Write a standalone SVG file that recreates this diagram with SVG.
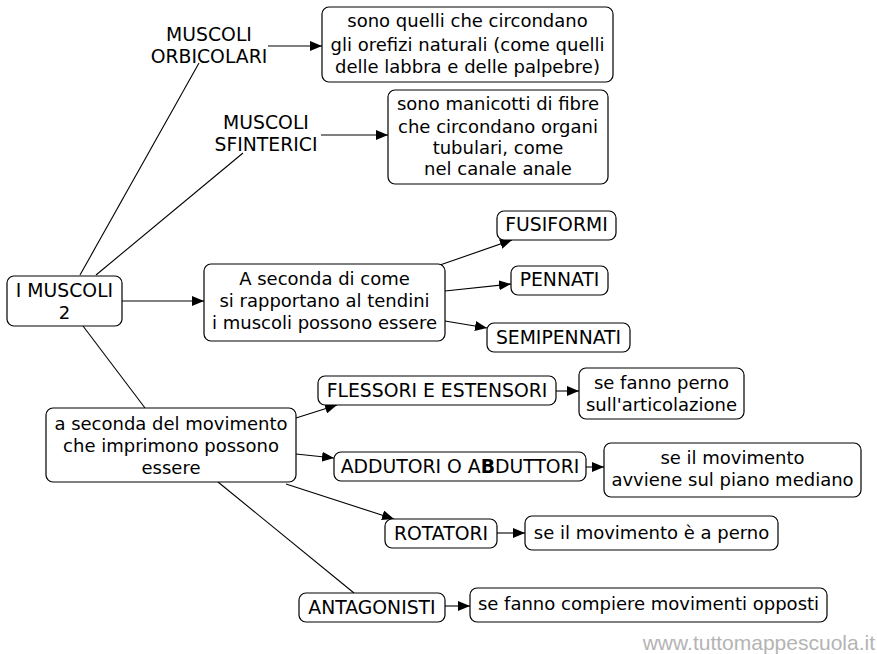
<svg xmlns="http://www.w3.org/2000/svg" width="877" height="654" viewBox="0 0 877 654">
<style>
.b{fill:#fff;stroke:#000;stroke-width:1.2}
text{font-family:"DejaVu Sans",Verdana,sans-serif;font-size:18px;fill:#000;text-anchor:middle}
.u{font-size:18.8px}
.c line{stroke:#000;stroke-width:1.1}
.wm{font-family:"Liberation Sans",Arial,sans-serif;font-size:21px;fill:#b4b4b4;text-anchor:end}
</style>
<defs>
<marker id="a" viewBox="0 0 12 10" refX="12" refY="5" markerWidth="12" markerHeight="10" markerUnits="userSpaceOnUse" orient="auto">
<path d="M0,0L12,5L0,10z" fill="#000"/>
</marker>
</defs>
<rect width="877" height="654" fill="#fff"/>
<g class="c">
<line x1="80" y1="275" x2="199" y2="63"/>
<line x1="96" y1="275" x2="243" y2="153"/>
<line x1="83" y1="326" x2="145" y2="408"/>
<line x1="218" y1="482" x2="354" y2="593"/>
<line x1="122" y1="301" x2="204" y2="301" marker-end="url(#a)"/>
<line x1="268" y1="46" x2="322" y2="46" marker-end="url(#a)"/>
<line x1="321" y1="135" x2="388" y2="135" marker-end="url(#a)"/>
<line x1="440" y1="265" x2="512" y2="240" marker-end="url(#a)"/>
<line x1="445" y1="291" x2="511" y2="284" marker-end="url(#a)"/>
<line x1="445" y1="321" x2="487" y2="328" marker-end="url(#a)"/>
<line x1="296" y1="418" x2="337" y2="405" marker-end="url(#a)"/>
<line x1="296" y1="454" x2="334" y2="458" marker-end="url(#a)"/>
<line x1="286" y1="484" x2="394" y2="519" marker-end="url(#a)"/>
<line x1="556" y1="391" x2="579" y2="391" marker-end="url(#a)"/>
<line x1="586" y1="467" x2="604" y2="467" marker-end="url(#a)"/>
<line x1="497" y1="533" x2="525" y2="533" marker-end="url(#a)"/>
<line x1="445" y1="606" x2="470" y2="606" marker-end="url(#a)"/>
</g>
<g id="n-root"><rect class="b" x="7" y="276" width="115" height="50" rx="7"/><text class="u" x="64.5" y="297">I MUSCOLI</text><text x="64.5" y="319">2</text></g>
<g id="n-orb"><text class="u" x="209" y="41">MUSCOLI</text><text class="u" x="209" y="63">ORBICOLARI</text></g>
<g id="n-orb-d"><rect class="b" x="322" y="7" width="291" height="75" rx="7"/><text x="467.5" y="27">sono quelli che circondano</text><text x="467.5" y="51">gli orefizi naturali (come quelli</text><text x="467.5" y="73">delle labbra e delle palpebre)</text></g>
<g id="n-sfi"><text class="u" x="266" y="129">MUSCOLI</text><text class="u" x="266" y="151">SFINTERICI</text></g>
<g id="n-sfi-d"><rect class="b" x="388" y="90" width="220" height="94" rx="7"/><text x="498" y="110">sono manicotti di fibre</text><text x="498" y="133">che circondano organi</text><text x="498" y="154">tubulari, come</text><text x="498" y="175">nel canale anale</text></g>
<g id="n-tend"><rect class="b" x="204" y="264" width="241" height="77" rx="7"/><text x="324.5" y="285">A seconda di come</text><text x="324.5" y="307">si rapportano al tendini</text><text x="324.5" y="329">i muscoli possono essere</text></g>
<g id="n-fus"><rect class="b" x="497" y="211" width="119" height="29" rx="7"/><text class="u" x="556.5" y="231">FUSIFORMI</text></g>
<g id="n-pen"><rect class="b" x="511" y="266" width="97" height="29" rx="7"/><text class="u" x="559.5" y="286">PENNATI</text></g>
<g id="n-semi"><rect class="b" x="487" y="323" width="143" height="29" rx="7"/><text class="u" x="558.5" y="344">SEMIPENNATI</text></g>
<g id="n-mov"><rect class="b" x="46" y="408" width="250" height="74" rx="7"/><text x="171" y="430">a seconda del movimento</text><text x="171" y="452">che imprimono possono</text><text x="171" y="474">essere</text></g>
<g id="n-fle"><rect class="b" x="318" y="376" width="238" height="29" rx="7"/><text class="u" x="437" y="397">FLESSORI E ESTENSORI</text></g>
<g id="n-fle-d"><rect class="b" x="579" y="368" width="165" height="51" rx="7"/><text x="661.5" y="389">se fanno perno</text><text x="661.5" y="411">sull'articolazione</text></g>
<g id="n-add"><rect class="b" x="334" y="452" width="252" height="29" rx="7"/><text class="u" x="460" y="473">ADDUTORI O A<tspan font-weight="bold">B</tspan>DUTTORI</text></g>
<g id="n-add-d"><rect class="b" x="604" y="443" width="257" height="54" rx="7"/><text x="732.5" y="464">se il movimento</text><text x="732.5" y="486">avviene sul piano mediano</text></g>
<g id="n-rot"><rect class="b" x="385" y="519" width="112" height="29" rx="7"/><text class="u" x="441" y="540">ROTATORI</text></g>
<g id="n-rot-d"><rect class="b" x="525" y="516" width="253" height="34" rx="7"/><text x="651.5" y="539">se il movimento è a perno</text></g>
<g id="n-ant"><rect class="b" x="299" y="593" width="146" height="29" rx="7"/><text class="u" x="372" y="614">ANTAGONISTI</text></g>
<g id="n-ant-d"><rect class="b" x="470" y="588" width="357" height="34" rx="7"/><text x="648.5" y="610">se fanno compiere movimenti opposti</text></g>
<text class="wm" x="875" y="650">www.tuttomappescuola.it</text>
</svg>
